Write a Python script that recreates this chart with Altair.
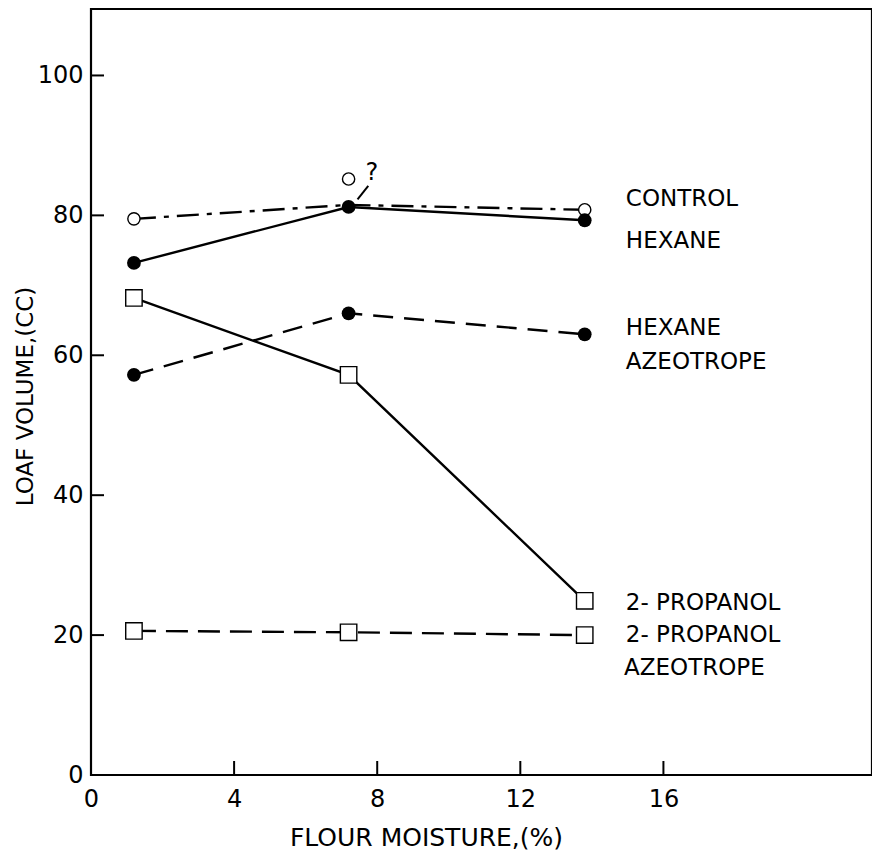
import altair as alt
import pandas as pd

# ---- data ----
x_vals = [1.2, 7.2, 13.8]
control_pts = [79.5, 85.2, 80.8]
control_line = [79.5, 81.5, 80.8]
hexane = [73.2, 81.2, 79.3]
hexane_az = [57.2, 66.0, 63.0]
propanol = [68.2, 57.2, 24.9]
propanol_az = [20.6, 20.4, 20.0]

label_text = ["CONTROL", "HEXANE", "HEXANE", "AZEOTROPE", "2- PROPANOL", "2- PROPANOL", "AZEOTROPE"]
label_x = [14.95, 14.95, 14.95, 14.95, 14.95, 14.95, 14.9]
label_y = [82.4, 76.4, 63.9, 59.1, 24.6, 20.0, 15.3]

x_ticks = [0, 4, 8, 12, 16]
y_ticks = [0, 20, 40, 60, 80, 100]

qmark_x = [7.85]
qmark_y = [86.0]
arrow_x = [7.75, 7.45]
arrow_y = [84.2, 82.3]

FONT = "DejaVu Sans"
W, H = 781, 766

xs = alt.Scale(domain=[0, 21.83], nice=False, zero=False)
ys = alt.Scale(domain=[0, 109.5], nice=False, zero=False)

x_axis = alt.Axis(values=x_ticks, ticks=False, domain=False, grid=False, labelFlush=False,
                  labelFontSize=24, labelFont=FONT, labelColor="black", labelPadding=12,
                  title="FLOUR MOISTURE,(%)", titleFont=FONT, titleFontSize=25,
                  titleFontWeight="normal", titleColor="black",
                  titleX=335, titleY=70, titleAlign="center", titleBaseline="alphabetic")
y_axis = alt.Axis(values=y_ticks, ticks=False, domain=False, grid=False, labelFlush=False,
                  labelFontSize=24, labelFont=FONT, labelColor="black", labelPadding=8,
                  title="LOAF VOLUME,(CC)", titleFont=FONT, titleFontSize=23,
                  titleFontWeight="normal", titleColor="black",
                  titleX=-59, titleY=387, titleAlign="center", titleBaseline="alphabetic")


def X(field="x"):
    return alt.X(f"{field}:Q", scale=xs, axis=x_axis)


def Y(field="y"):
    return alt.Y(f"{field}:Q", scale=ys, axis=y_axis)


def df(xv, yv):
    return pd.DataFrame({"x": xv, "y": yv})


def line(yv, dash=None, xv=x_vals, width=2.4):
    kw = dict(color="black", strokeWidth=width)
    if dash:
        kw["strokeDash"] = dash
    return alt.Chart(df(xv, yv)).mark_line(**kw).encode(x=X(), y=Y())


layers = []
layers.append(line(control_line, [22, 8, 5, 8]))
layers.append(line(hexane))
layers.append(line(hexane_az, [20, 11]))
layers.append(line(propanol))
layers.append(line(propanol_az, [22, 10]))
layers.append(line(arrow_y, None, arrow_x, 2))

# markers
layers.append(alt.Chart(df(x_vals, control_pts)).mark_point(
    shape="circle", size=150, filled=True, fill="white", stroke="black", strokeWidth=1.4, opacity=1
).encode(x=X(), y=Y()))
for yv in (hexane, hexane_az):
    layers.append(alt.Chart(df(x_vals, yv)).mark_point(
        shape="circle", size=190, filled=True, color="black", opacity=1
    ).encode(x=X(), y=Y()))
for yv in (propanol, propanol_az):
    layers.append(alt.Chart(df(x_vals, yv)).mark_point(
        shape="square", size=270, filled=True, fill="white", stroke="black", strokeWidth=1.4, opacity=1
    ).encode(x=X(), y=Y()))

# series labels
labels = pd.DataFrame({"x": label_x, "y": label_y, "t": label_text})
layers.append(alt.Chart(labels).mark_text(
    align="left", baseline="middle", font=FONT, fontSize=23, color="black"
).encode(x=X(), y=Y(), text="t:N"))

# question mark annotation
layers.append(alt.Chart(df(qmark_x, qmark_y)).mark_text(
    text="?", align="center", baseline="middle", font=FONT, fontSize=24, color="black"
).encode(x=X(), y=Y()))

# inward ticks
yt = pd.DataFrame({"y": y_ticks[1:]})
layers.append(alt.Chart(yt).mark_rule(color="black", strokeWidth=2).encode(
    y=Y(), x=alt.value(0), x2=alt.value(13)))
xt = pd.DataFrame({"x": x_ticks[1:]})
layers.append(alt.Chart(xt).mark_rule(color="black", strokeWidth=2).encode(
    x=X(), y=alt.value(H), y2=alt.value(H - 14)))

chart = alt.layer(*layers).properties(
    width=W, height=H,
    autosize=alt.AutoSizeParams(type="none"),
    padding={"left": 83, "top": 1, "right": 0, "bottom": 76},
    background="white",
).configure_view(stroke="black", strokeWidth=2.2)

chart.save("out.html", embed_options={"renderer": "svg", "actions": False})
